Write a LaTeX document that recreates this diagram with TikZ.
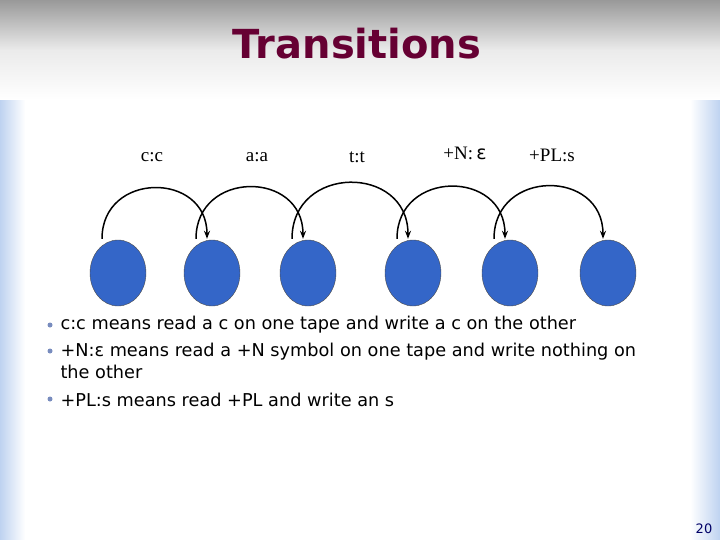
\documentclass[tikz,border=0pt]{standalone}
\usepackage{fontspec}
\setmainfont{Liberation Serif}
\newfontfamily\dv{DejaVu Sans}
\newfontfamily\ttl{DejaVu Sans}
\usetikzlibrary{arrows.meta,shapes.geometric}
\definecolor{titlec}{RGB}{102,0,51}
\definecolor{stc}{RGB}{52,102,200}
\definecolor{bul}{RGB}{120,140,190}
\definecolor{edgeb}{RGB}{190,210,240}
\begin{document}
\begin{tikzpicture}[x=1pt,y=-1pt,
  st/.style={ellipse,draw=black!70,fill=stc,minimum width=56pt,minimum height=66pt,inner sep=0pt},
  lab/.style={font=\fontsize{19}{20}\selectfont},
  arc/.style={line width=1.5pt,-{Stealth[length=8pt,width=6pt]}},
  btxt/.style={font=\dv\fontsize{17.7}{22}\selectfont,anchor=west,align=left},
  bdot/.style={circle,fill=bul,inner sep=0pt,minimum size=5pt}]
\useasboundingbox (0,0) rectangle (720,540);
\shade[left color=edgeb,right color=white] (0,60) rectangle (25,540);
\shade[left color=white,right color=edgeb] (690,60) rectangle (720,540);
\shade[top color=black!40,bottom color=white,middle color=black!8] (0,0) rectangle (720,100);
\node[font=\ttl\bfseries\fontsize{40}{44}\selectfont,text=titlec] (title) at (357,44) {Transitions};
\foreach \i/\x in {1/118,2/212,3/308,4/413,5/510,6/608}{
  \node[st] (s\i) at (\x,273) {};
}
\foreach \i/\j in {1/2,2/3,3/4,4/5,5/6}{
  \draw[arc] ([xshift=-16pt,yshift=1pt]s\i.north) to[out=90,in=90,looseness=1.65] ([xshift=-5pt,yshift=1pt]s\j.north);
}
\node[lab] (l1) at (152,157) {c:c};
\node[lab] (l2) at (257,157) {a:a};
\node[lab] (l3) at (357,157) {t:t};
\node[lab] (l4) at (465,153) {+N:\,{\dv ε}};
\node[lab] (l5) at (552,155) {+PL:s};
\node[bdot] (b1) at (50,325) {};
\node[bdot] (b2) at (50,351) {};
\node[bdot] (b3) at (50,399) {};
\node[btxt] (t1) at (57,325) {c:c means read a c on one tape and write a c on the other};
\node[btxt,anchor=north west] (t2) at (57,340) {+N:ε means read a +N symbol on one tape and write nothing on\\the other};
\node[btxt] (t3) at (57,400) {+PL:s means read +PL and write an s};
\node[font=\dv\fontsize{13}{14}\selectfont,text=blue!40!black] (pg) at (704,529) {20};
\end{tikzpicture}
\end{document}
